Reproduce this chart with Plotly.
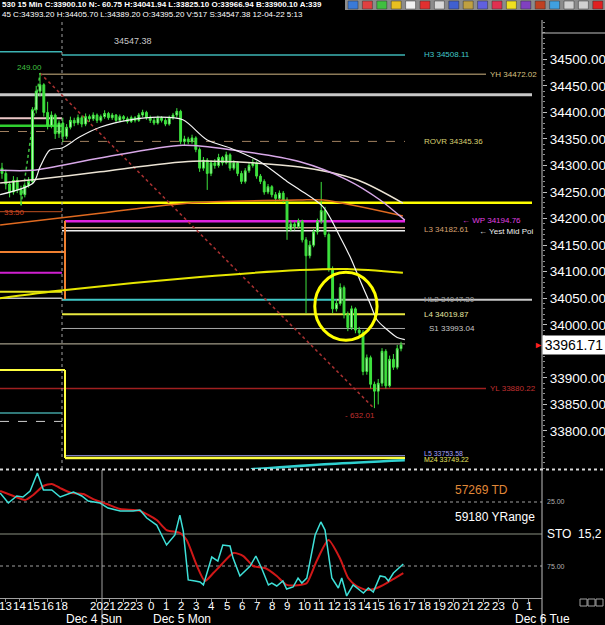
import plotly.graph_objects as go

# ---------------- data ----------------
closes = [34285, 34265, 34250, 34272, 34255, 34245, 34262, 34270, 34405, 34440,
          34452, 34400, 34375, 34395, 34360, 34380, 34355, 34372, 34385, 34380,
          34390, 34378, 34392, 34388, 34395, 34385, 34392, 34398, 34390, 34395,
          34385, 34392, 34388, 34383, 34390, 34385, 34395, 34400, 34390, 34385,
          34380, 34390, 34385, 34378, 34390, 34395, 34402, 34345, 34350, 34345,
          34352, 34330, 34295, 34310, 34285, 34305, 34300, 34315, 34305, 34320,
          34295, 34305, 34285, 34270, 34290, 34300, 34305, 34280, 34270, 34250,
          34260, 34245, 34238, 34248, 34235, 34180, 34190, 34185, 34195, 34160,
          34130, 34150, 34175, 34195, 34215, 34170, 34105, 34030, 34040, 34070,
          34020, 33995, 34030, 33990, 33985, 33912, 33938, 33888, 33875, 33890,
          33950, 33885, 33935, 33920, 33955, 33962]
opens = [34295, 34285, 34265, 34250, 34272, 34255, 34245, 34262, 34270, 34405,
         34440, 34452, 34400, 34375, 34395, 34360, 34380, 34355, 34372, 34385,
         34380, 34390, 34378, 34392, 34388, 34395, 34385, 34392, 34398, 34390,
         34395, 34385, 34392, 34388, 34383, 34390, 34385, 34395, 34400, 34390,
         34385, 34380, 34390, 34385, 34378, 34390, 34395, 34402, 34345, 34350,
         34345, 34352, 34330, 34295, 34310, 34285, 34305, 34300, 34315, 34305,
         34320, 34295, 34305, 34285, 34270, 34290, 34300, 34305, 34280, 34270,
         34250, 34260, 34245, 34238, 34248, 34235, 34180, 34190, 34185, 34195,
         34160, 34130, 34150, 34175, 34195, 34215, 34170, 34105, 34030, 34040,
         34070, 34020, 33995, 34030, 33990, 33985, 33912, 33938, 33888, 33875,
         33890, 33950, 33885, 33935, 33920, 33955]
highs = [34305, 34292, 34270, 34280, 34278, 34262, 34268, 34278, 34410, 34450,
         34474, 34455, 34420, 34402, 34398, 34385, 34390, 34378, 34392, 34390,
         34396, 34394, 34398, 34396, 34400, 34398, 34396, 34404, 34401, 34399,
         34397, 34396, 34395, 34392, 34394, 34393, 34399, 34405, 34403, 34394,
         34390, 34394, 34393, 34389, 34394, 34399, 34408, 34405, 34356, 34354,
         34358, 34355, 34334, 34316, 34314, 34310, 34312, 34322, 34318, 34326,
         34323, 34310, 34308, 34290, 34295, 34305, 34312, 34308, 34284, 34274,
         34265, 34263, 34250, 34253, 34252, 34240, 34196, 34194, 34200, 34198,
         34165, 34158, 34180, 34200, 34269, 34222, 34174, 34110, 34048, 34078,
         34074, 34025, 34036, 34033, 33996, 33990, 33944, 33942, 33893, 33898,
         33956, 33954, 33942, 33945, 33962, 33968]
lows = [34275, 34255, 34240, 34245, 34248, 34225, 34240, 34258, 34265, 34398,
        34430, 34392, 34368, 34370, 34350, 34352, 34344, 34350, 34368, 34374,
        34376, 34372, 34374, 34382, 34384, 34380, 34381, 34388, 34386, 34386,
        34380, 34382, 34384, 34379, 34380, 34381, 34382, 34391, 34386, 34380,
        34376, 34377, 34381, 34374, 34375, 34386, 34390, 34340, 34338, 34340,
        34341, 34325, 34288, 34290, 34254, 34280, 34294, 34296, 34300, 34302,
        34290, 34291, 34280, 34265, 34266, 34286, 34296, 34275, 34265, 34245,
        34246, 34240, 34232, 34234, 34230, 34160, 34176, 34178, 34181, 34155,
        34022, 34125, 34146, 34170, 34190, 34165, 34100, 34022, 34025, 34036,
        34012, 33988, 33990, 33984, 33978, 33905, 33906, 33880, 33843, 33850,
        33884, 33880, 33882, 33915, 33916, 33950]
bar_idx = list(range(len(closes)))

# moving averages (bar index, price)
ma_white_x = [-0.5, 8.2, 10.0, 12.6, 15.8, 20.5, 25.8, 33.7, 41.6, 47.6, 54.0, 60.0, 67.9,
              75.0, 78.4, 84.5, 89.0, 91.6, 94.2, 96.8, 98.7, 101.3, 104.0, 106.0]
ma_white_y = [34245, 34267, 34297, 34329, 34333, 34354, 34372, 34386, 34391, 34386, 34348, 34333, 34307,
              34270, 34254, 34222, 34165, 34128, 34084, 34041, 34009, 33991, 33976, 33972]
ma_pink_x = [-0.5, 8.2, 25.8, 47.6, 60.8, 78.4, 90.8, 99.5, 106.0]
ma_pink_y = [34291, 34291, 34314, 34338, 34329, 34307, 34273, 34235, 34197]
ma_cream_x = [-0.5, 8.2, 25.8, 50.3, 78.4, 93.4, 105.5]
ma_cream_y = [34267, 34273, 34288, 34308, 34297, 34273, 34229]
ma_orange_x = [-0.5, 25.8, 48.7, 78.4, 84.5, 105.5]
ma_orange_y = [34188, 34210, 34229, 34235, 34235, 34205]
ma_yellow_x = [-0.5, 16.1, 52.1, 78.4, 90.8, 105.5]
ma_yellow_y = [34050, 34065, 34090, 34103, 34105, 34098]
ma_teal_x = [65.5, 86.3, 106.0]
ma_teal_y = [33728, 33738, 33745]

# stochastic
sto_k_x = [-0.5, 1.66, 3.87, 5.5, 7.4, 9.3, 10.9, 13.1, 15.3, 17.0, 18.8, 21.0, 22.7, 25.8, 27.9,
           31.1, 34.5, 36.3, 38.1, 40.7, 43.3, 45.5, 46.8, 47.7, 49.0, 50.8, 52.1, 53.0, 55.2,
           56.8, 58.1, 60.0, 60.8, 62.6, 65.3, 66.8, 68.3, 70.1, 71.0, 72.3, 73.9, 74.9, 76.6,
           77.9, 78.9, 80.2, 82.4, 83.9, 85.0, 86.8, 88.5, 89.4, 90.7, 92.4, 95.1, 96.4, 97.7,
           99.5, 100.8, 101.7, 103.0, 105.6]
sto_k_y = [18.0, 25.8, 20.3, 21.1, 16.4, 2.3, 15.6, 15.6, 21.1, 19.5, 17.2, 20.3, 24.2, 25.8, 29.7,
           32.0, 32.0, 31.3, 37.5, 43.0, 58.6, 50.8, 35.2, 47.7, 85.9, 86.7, 87.5, 89.8, 68.0,
           71.1, 58.6, 59.4, 68.8, 82.8, 75.0, 67.2, 76.6, 89.8, 88.3, 90.6, 86.7, 93.0, 91.4,
           84.4, 88.3, 84.4, 50.8, 40.6, 46.9, 84.4, 92.2, 84.4, 98.4, 89.8, 96.1, 92.2, 95.3,
           82.8, 83.6, 86.7, 80.5, 73.4]
sto_d_x = [-0.5, 3.0, 6.1, 8.2, 10.9, 13.1, 15.3, 18.3, 21.4, 24.0, 27.6, 31.1, 36.3, 40.7, 43.3,
           46.8, 48.6, 51.2, 53.4, 55.6, 57.4, 60.9, 63.5, 66.1, 69.2, 72.3, 74.9, 78.4, 80.2,
           82.8, 85.9, 88.9, 91.1, 93.3, 96.0, 98.6, 101.2, 103.4, 105.6]
sto_d_y = [16.4, 20.3, 23.4, 19.5, 12.5, 10.9, 14.1, 18.0, 18.8, 22.7, 26.6, 30.5, 32.0, 39.1, 46.9,
           49.2, 54.7, 74.2, 86.7, 80.5, 75.0, 64.8, 67.2, 75.0, 76.6, 82.8, 89.8, 89.8, 88.3,
           71.1, 54.7, 68.8, 84.4, 90.6, 93.8, 92.2, 88.3, 84.4, 80.5]

tick_pos = [1.0, 4.55, 8.2, 11.84, 15.7, 24.86, 28.29, 31.84, 35.39, 39.2, 43.2, 47.1, 51.05, 55.0,
            59.1, 63.2, 67.0, 71.05, 75.1, 79.6, 83.5, 87.5, 91.4, 95.3, 99.2, 103.2, 107.1,
            111.05, 115.0, 118.8, 122.8, 126.7, 130.6, 134.9, 138.6]
tick_text = ["13", "14", "15", "16", "18", "20", "21", "22", "23", "0", "1", "2", "3", "4",
             "5", "6", "7", "8", "9", "10", "11", "12", "13", "14", "15", "16", "17",
             "18", "19", "20", "21", "22", "23", "0", "1"]
day_labels = ["Dec 4 Sun", "Dec 5 Mon", "Dec 6 Tue"]
day_pos = [16.2, 39.1, 134.5]
price_ticks = [33800, 33850, 33900, 34000, 34050, 34100, 34150, 34200, 34250,
               34300, 34350, 34400, 34450, 34500]

last_price = 33961.71

# ---------------- helpers ----------------
PW, TOP, BOT = 542.0, 20.0, 598.0


def px(x):
    return x / PW


def py(y):
    return (BOT - y) / (BOT - TOP)


fig = go.Figure()

fig.add_trace(go.Candlestick(
    x=bar_idx, open=opens, high=highs, low=lows, close=closes,
    xaxis="x", yaxis="y", whiskerwidth=0, showlegend=False, hoverinfo="skip",
    increasing=dict(line=dict(color="#3ee23e", width=1), fillcolor="#c8ffc8"),
    decreasing=dict(line=dict(color="#3ee23e", width=1), fillcolor="#3ee23e")))

for xs, ys, col, w in [(ma_yellow_x, ma_yellow_y, "#e6e600", 2),
                       (ma_orange_x, ma_orange_y, "#e06a20", 1.5),
                       (ma_cream_x, ma_cream_y, "#ece4d4", 1.5),
                       (ma_pink_x, ma_pink_y, "#d8a8e8", 1.5),
                       (ma_white_x, ma_white_y, "#f4f4f4", 1.2),
                       (ma_teal_x, ma_teal_y, "#30d0d0", 2.5)]:
    fig.add_trace(go.Scatter(x=xs, y=ys, mode="lines", xaxis="x", yaxis="y",
                             line=dict(color=col, width=w, shape="spline", smoothing=0.8),
                             showlegend=False, hoverinfo="skip"))

fig.add_trace(go.Scatter(x=sto_d_x, y=sto_d_y, mode="lines", xaxis="x2", yaxis="y2",
                         line=dict(color="#d01818", width=2, shape="spline", smoothing=0.6),
                         showlegend=False, hoverinfo="skip"))
fig.add_trace(go.Scatter(x=sto_k_x, y=sto_k_y, mode="lines", xaxis="x2", yaxis="y2",
                         line=dict(color="#3ee0d8", width=1.5),
                         showlegend=False, hoverinfo="skip"))

shapes = []


def hline(price, x0, x1, color, width, dash="solid"):
    shapes.append(dict(type="line", xref="paper", yref="y", x0=px(x0), x1=px(x1),
                       y0=price, y1=price, layer="below",
                       line=dict(color=color, width=width, dash=dash)))


def vline_price(xp, p0, p1, color, width):
    shapes.append(dict(type="line", xref="paper", yref="y", x0=px(xp), x1=px(xp),
                       y0=p0, y1=p1, layer="below", line=dict(color=color, width=width)))


hline(34514, 0, 62, "#3cb4b4", 1.5)
hline(34508.11, 62, 405, "#3cb4b4", 1.5)
hline(34472.02, 41, 486, "#8c7a58", 1.5)
hline(34433, 0, 532, "#c8c8c8", 3)
hline(34389, 0, 62, "#ecc8c8", 2)
hline(34375, 0, 62, "#30d030", 2.5)
hline(34364, 0, 62, "#a08060", 1, "dash")
hline(34345.36, 62, 405, "#a08060", 1, "dash")
hline(34230, 0, 532, "#ffff00", 2.5)
hline(34213, 0, 62, "#c05020", 1)
hline(34194.76, 65, 405, "#e020e0", 2.5)
hline(34182.61, 62, 405, "#d8a898", 1.5)
hline(34177, 62, 405, "#f0f0f0", 1.5)
hline(34137, 0, 65, "#f08030", 2)
hline(34098, 0, 62, "#d020d0", 2)
hline(34062, 0, 62, "#e8e820", 2)
hline(34050, 0, 62, "#c0c0c0", 1.5)
hline(34047.30, 62, 337, "#40c8c8", 2)
hline(34047.30, 337, 532, "#c8c8c8", 2)
hline(34019.87, 62, 405, "#e8e840", 2)
hline(33993.04, 62, 405, "#a8a8a8", 1)
hline(33964, 0, 405, "#c8c0a8", 1)
hline(33915, 0, 65, "#ffff40", 2)
hline(33880.22, 0, 486, "#a02020", 1.5)
hline(33834, 0, 62, "#40a0a0", 1.5)
hline(33818, 0, 62, "#d0d0d0", 1, "dash")
hline(33753.58, 65, 405, "#9090e0", 1)
hline(33749.22, 65, 405, "#ffff40", 2.5)
vline_price(65, 34196, 34048, "#f08030", 2)
vline_price(65, 33915, 33749, "#ffff40", 2)

# measurement lines
shapes.append(dict(type="line", xref="x", yref="y", x0=10, x1=98, y0=34474, y1=33842,
                   layer="below", line=dict(color="#a83030", width=1.5, dash="dot")))
shapes.append(dict(type="line", xref="x", yref="y", x0=5, x1=10, y0=34225, y1=34474,
                   layer="below", line=dict(color="#40c040", width=1.5, dash="dot")))
# highlight circle
shapes.append(dict(type="circle", xref="x", yref="y", x0=82.3, x1=98.7, y0=33971, y1=34099,
                   line=dict(color="#ffff00", width=3)))

# frame lines
shapes += [
    dict(type="line", xref="paper", yref="paper", x0=px(62), x1=px(62), y0=py(469), y1=py(20),
         line=dict(color="#a0a0a0", width=1, dash="dot"), layer="below"),
    dict(type="line", xref="paper", yref="paper", x0=px(102), x1=px(102), y0=py(470), y1=py(625),
         line=dict(color="#a0a0a0", width=1)),
    dict(type="line", xref="paper", yref="paper", x0=1, x1=1, y0=py(625), y1=py(20),
         line=dict(color="#c0c0c0", width=1)),
    dict(type="line", xref="paper", yref="paper", x0=1, x1=px(605), y0=py(33), y1=py(33),
         line=dict(color="#c0c0c0", width=1)),
    dict(type="line", xref="paper", yref="paper", x0=0, x1=px(605), y0=py(469.5), y1=py(469.5),
         line=dict(color="#d8d8d8", width=2, dash="dot")),
    dict(type="line", xref="paper", yref="y2", x0=0, x1=1, y0=25, y1=25,
         line=dict(color="#a0a0a0", width=1, dash="dot"), layer="below"),
    dict(type="line", xref="paper", yref="y2", x0=0, x1=1, y0=75, y1=75,
         line=dict(color="#a0a0a0", width=1, dash="dot"), layer="below"),
    dict(type="line", xref="paper", yref="y2", x0=0, x1=1, y0=50, y1=50,
         line=dict(color="#8a9080", width=1), layer="below"),
    # toolbar strip
    dict(type="rect", xref="paper", yref="paper", x0=px(345), x1=px(605), y0=py(10), y1=py(0),
         fillcolor="#8c8c8c", line=dict(width=0)),
]
icon_cols = ["#3a7ad8", "#e04040", "#40c040", "#e8c020", "#f0f0f0", "#e03030", "#d8d8d8",
             "#4060d0", "#c0a040", "#6060e0", "#e03050", "#f0e020", "#8040c0", "#c04020",
             "#40a0e0", "#d0d0d0", "#d0d0d0", "#e02020"]
for k, c in enumerate(icon_cols):
    x0 = 348 + k * 14.4
    shapes.append(dict(type="rect", xref="paper", yref="paper", x0=px(x0), x1=px(x0 + 10),
                       y0=py(9), y1=py(1), fillcolor=c, line=dict(color="#303030", width=0.5)))
for k in range(3):
    x0 = 580 + k * 8
    shapes.append(dict(type="rect", xref="paper", yref="paper", x0=px(x0), x1=px(x0 + 7),
                       y0=py(606), y1=py(599), line=dict(color="#a0a0a0", width=1)))

annotations = []


def txt(s, x, y, color, size=8, xref="paper", yref="y", xanchor="left", bold=False):
    annotations.append(dict(text=("<b>%s</b>" % s) if bold else s, x=x, y=y, xref=xref,
                            yref=yref, xanchor=xanchor, yanchor="middle", showarrow=False,
                            font=dict(color=color, size=size, family="Liberation Sans")))


txt("H3 34508.11", px(422), 34508.11, "#40c8c8")
txt("YH 34472.02", px(488), 34472.02, "#d8c080")
txt("ROVR 34345.36", px(422), 34345.36, "#d8d070")
txt("\u2190 WP 34194.76", px(460), 34196, "#e040e0")
txt("L3 34182.61", px(422), 34180, "#d8a070")
txt("\u2190 Yest Mid Poi", px(477), 34175, "#f0f0f0")
txt("HL2 34047.30", px(422), 34047.3, "#a0a0a0")
txt("L4 34019.87", px(422), 34019.87, "#e8e8a0")
txt("S1 33993.04", px(427), 33993.04, "#c8c8c8")
txt("YL 33880.22", px(488), 33880.22, "#c03030")
txt("L5 33753.58", px(422), 33758, "#a0a0ff", size=7)
txt("M24 33749.22", px(422), 33746, "#e8e860", size=7)
txt("34547.38", px(112), 34534, "#c8c8c8", size=9)
txt("249.00", px(15), 34485, "#40c040")
txt("- 632.01", px(343), 33829, "#c03030")
txt("33.50", px(2), 34211, "#d04020")

# header rows
txt("530 15 Min C:33900.10 N:- 60.75 H:34041.94 L:33825.10 O:33966.94 B:33900.10 A:339",
    0, py(4), "#ffffff", size=8, yref="paper", bold=True)
txt("45 C:34393.20 H:34405.70 L:34389.20 O:34395.20 V:517 S:34547.38 12-04-22 5:13",
    0, py(15), "#ffffff", size=8, yref="paper")

# current price box
txt("\u25ba", px(538), last_price, "#ff2020", size=9, xanchor="center")
annotations.append(dict(text="33961.71", x=px(574), y=last_price, xref="paper", yref="y",
                        xanchor="center", yanchor="middle", showarrow=False,
                        bgcolor="#ffffff", borderpad=1, width=60,
                        font=dict(color="#000000", size=14, family="Liberation Sans")))

# lower pane texts
txt("57269 TD", px(453), py(490), "#e08838", size=12, yref="paper")
txt("59180 YRange", px(453), py(517), "#ffffff", size=12, yref="paper")
txt("25.00", px(545), 25, "#b0b0b0", size=7, yref="y2")
txt("75.00", px(545), 75, "#b0b0b0", size=7, yref="y2")
txt("STO  15,2", px(545), 50, "#ffffff", size=12, yref="y2")

# time axis labels (hour row + day row)
for tp, tt in zip(tick_pos, tick_text):
    annotations.append(dict(text=tt, x=tp, y=py(606), xref="x2", yref="paper",
                            xanchor="center", yanchor="middle", showarrow=False,
                            font=dict(color="#ffffff", size=11.5, family="Liberation Sans")))
for dp, dl in zip(day_pos, day_labels):
    annotations.append(dict(text=dl, x=dp, y=py(618.5), xref="x2", yref="paper",
                            xanchor="left", yanchor="middle", showarrow=False,
                            font=dict(color="#ffffff", size=12, family="Liberation Sans")))

xr = [-0.53, 142.1]
fig.update_layout(
    width=605, height=625,
    margin=dict(l=0, r=63, t=20, b=27),
    paper_bgcolor="#000000", plot_bgcolor="#000000",
    showlegend=False,
    font=dict(family="Liberation Sans", color="#ffffff"),
    xaxis=dict(domain=[0, 1], range=xr, anchor="y", showticklabels=False, showgrid=False,
               zeroline=False, rangeslider=dict(visible=False), fixedrange=True),
    xaxis2=dict(domain=[0, 1], range=xr, anchor="y2", tickmode="array", tickvals=tick_pos,
                showticklabels=False, ticks="outside", ticklen=3,
                tickcolor="#909090", showgrid=False, zeroline=False, showline=True,
                linecolor="#a0a0a0"),
    yaxis=dict(domain=[py(469), 1], range=[33728.4, 34574], side="right", anchor="x",
               tickmode="array", tickvals=price_ticks, tickformat=".2f", ticks="outside",
               ticklen=4, tickcolor="#c0c0c0", tickfont=dict(color="#ffffff", size=13.5),
               minor=dict(tickmode="linear", tick0=33700, dtick=10, ticks="outside",
                          ticklen=2, tickcolor="#909090"),
               showgrid=False, zeroline=False),
    yaxis2=dict(domain=[0, py(470)], range=[100, 0], side="right", anchor="x2",
                showticklabels=False, showgrid=False, zeroline=False),
    shapes=shapes,
    annotations=annotations,
)

fig.write_html("out.html",
               config={"displayModeBar": False},
               post_script="document.body.style.margin='0px';"
                           "document.body.style.padding='0px';"
                           "document.body.style.overflow='hidden';")
